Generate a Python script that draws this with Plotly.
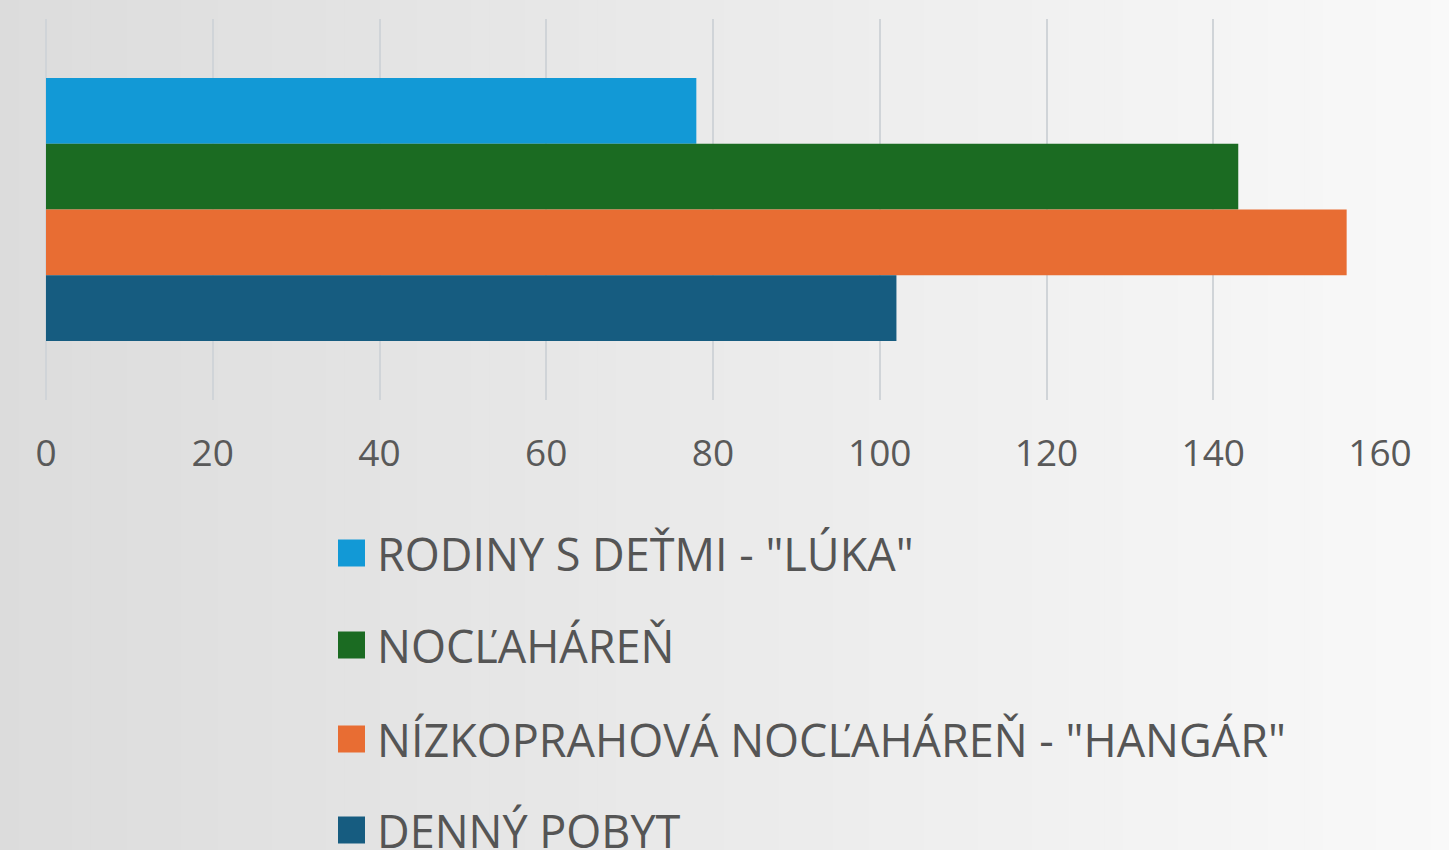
import plotly.graph_objects as go

# ---- data ----
series_names = ['RODINY S DEŤMI - "LÚKA"', 'NOCĽAHÁREŇ',
                'NÍZKOPRAHOVÁ NOCĽAHÁREŇ - "HANGÁR"', 'DENNÝ POBYT']
series_values = [78, 143, 156, 102]
series_colors = ['#1299d6', '#1b6b22', '#e86d33', '#165c80']
category = [0]
x_ticks = [0, 20, 40, 60, 80, 100, 120, 140, 160]

W, H = 1449, 850
ML, MR, MT, MB = 46, 69, 19, 450
PW, PH = W - ML - MR, H - MT - MB

fig = go.Figure()
for name, val, col in zip(series_names, series_values, series_colors):
    fig.add_trace(go.Bar(
        x=[val], y=category, name=name, orientation='h',
        marker=dict(color=col, line=dict(width=0)),
        showlegend=False, hoverinfo='x+name'))

shapes = []
# horizontal background gradient
n = 80
x0p = -ML / PW
x1p = (W - ML) / PW
c0, c1 = 220, 249
for i in range(n):
    a = x0p + (x1p - x0p) * i / n
    b = x0p + (x1p - x0p) * (i + 1) / n + 0.002
    g = round(c0 + (c1 - c0) * (i + 0.5) / n)
    shapes.append(dict(type='rect', xref='paper', yref='paper', x0=a, x1=b,
                       y0=-MB / PH - 0.01, y1=(H - MB) / PH + 0.01,
                       fillcolor=f'rgb({g},{g},{g})', line=dict(width=0),
                       layer='below'))

# manual legend (large swatches)
row_y = [553, 645, 739, 830]
annotations = []
sw = 27
for name, col, ry in zip(series_names, series_colors, row_y):
    yc = (H - MB - ry) / PH
    shapes.append(dict(type='rect', xref='paper', yref='paper',
                       x0=(338 - ML) / PW, x1=(338 + sw - ML) / PW,
                       y0=yc - sw / 2 / PH, y1=yc + sw / 2 / PH,
                       fillcolor=col, line=dict(width=0), layer='above'))
    annotations.append(dict(xref='paper', yref='paper', x=(375 - ML) / PW, y=yc,
                            xanchor='left', yanchor='middle', showarrow=False,
                            text=name,
                            font=dict(family='Open Sans', size=45, color='#555555')))

fig.update_layout(
    width=W, height=H,
    margin=dict(l=ML, r=MR, t=MT, b=MB, pad=0),
    paper_bgcolor='#e8e8e8', plot_bgcolor='rgba(0,0,0,0)',
    barmode='group', bargap=0.31, bargroupgap=0,
    shapes=shapes, annotations=annotations,
    xaxis=dict(range=[0, 160], tickvals=x_ticks, ticktext=[str(t) for t in x_ticks],
               showgrid=True, gridcolor='#d0d4d8', gridwidth=1.5,
               zeroline=True, zerolinecolor='#d0d4d8', zerolinewidth=1.5,
               showline=False, ticks='',
               ticklabelstandoff=28,
               tickfont=dict(family='Open Sans', size=37, color='#595959')),
    yaxis=dict(range=[0.5, -0.5], showticklabels=False, showgrid=False,
               zeroline=False, showline=False),
    showlegend=False,
)

fig.write_html('out.html', config={'displayModeBar': False},
               post_script="document.body.style.margin='0';document.body.style.overflow='hidden';")
